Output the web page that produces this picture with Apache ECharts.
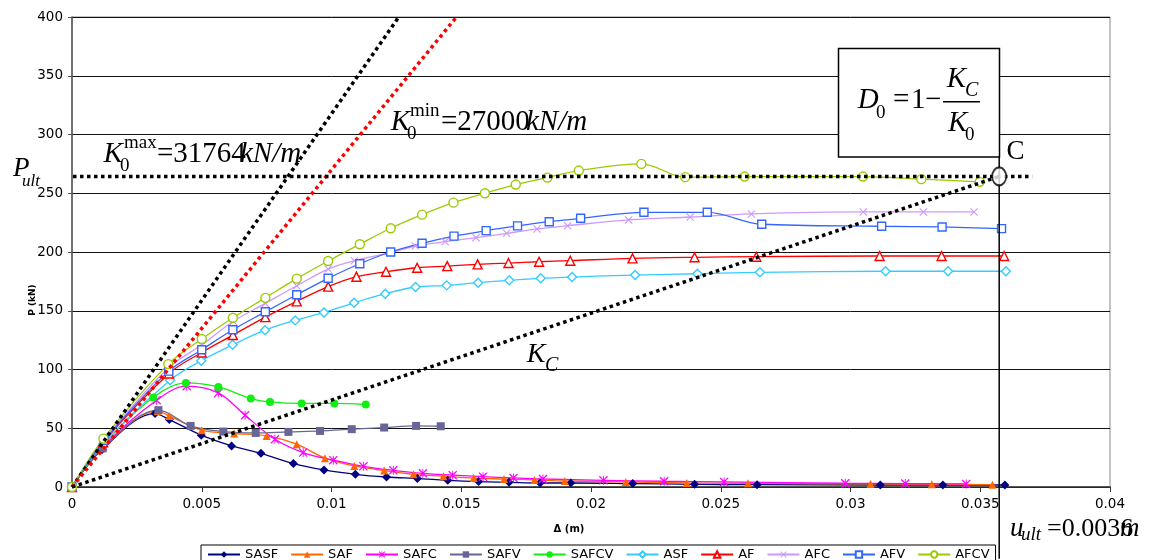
<!DOCTYPE html>
<html><head><meta charset="utf-8">
<script src="https://cdn.jsdelivr.net/npm/echarts@6/dist/echarts.min.js"></script>
<style>html,body{margin:0;padding:0;background:#fff}#c{width:1159px;height:560px}</style>
</head><body><div id="c"></div>
<script>
// ---------------- DATA ----------------
const seriesNames = ['SASF','SAF','SAFC','SAFV','SAFCV','ASF','AF','AFC','AFV','AFCV'];
const SASF = [[0,0],[0.00116,32],[0.0032,62.5],[0.00375,57.4],[0.00498,44.1],[0.00615,35],[0.00728,28.7],[0.00853,19.9],[0.00971,14.5],[0.01092,10.8],[0.01212,8.5],[0.01331,7.2],[0.01448,5.7],[0.01567,4.6],[0.01684,4],[0.01804,3.4],[0.01922,3.4],[0.02161,2.9],[0.02399,2.3],[0.0264,2],[0.03115,1.7],[0.03356,1.7],[0.03595,1.7]];
const SAF = [[0,0],[0.00118,33],[0.0033,64.5],[0.00375,60.5],[0.005,48.3],[0.00625,45.5],[0.0075,43.5],[0.00866,36.4],[0.00975,24.5],[0.01088,17.9],[0.01203,14],[0.01316,10.8],[0.01431,9.2],[0.01548,7.6],[0.01665,6.8],[0.01782,6],[0.01899,5.1],[0.02134,4.3],[0.02369,3.4],[0.02605,3.2],[0.03077,2.6],[0.03313,2.3],[0.03547,2]];
const SAFC = [[0,0],[0.0012,34.6],[0.00326,73.9],[0.00442,85.8],[0.00564,80.1],[0.00667,61.1],[0.00782,40.6],[0.00891,29.3],[0.01007,22.8],[0.01123,17.6],[0.01238,14.2],[0.01352,11.6],[0.01467,10.1],[0.01584,8.8],[0.01701,7.7],[0.01815,6.8],[0.02048,5.7],[0.02282,4.9],[0.02513,4.3],[0.0298,3.2],[0.03211,2.9],[0.03446,2.6]];
const SAFV = [[0,0],[0.00118,33],[0.00333,65.4],[0.00457,52],[0.00583,47.2],[0.00708,46],[0.00834,46.9],[0.00956,47.7],[0.01078,49.2],[0.01203,50.6],[0.01326,52],[0.01421,51.7]];
const SAFCV = [[0,0],[0.0012,36],[0.00313,76.2],[0.00439,88.6],[0.00564,85.2],[0.00689,75.3],[0.00763,72.4],[0.00885,71.1],[0.01011,71.1],[0.01132,70.2]];
const ASF = [[0,0],[0.0012,36.6],[0.00378,90.9],[0.00498,107.4],[0.00619,121],[0.00744,133.5],[0.0086,141.8],[0.00971,148.6],[0.01087,156.8],[0.01207,164.5],[0.01324,170.2],[0.01444,171.6],[0.01565,173.9],[0.01685,175.9],[0.01806,177.6],[0.01927,178.7],[0.0217,180.4],[0.0241,181.5],[0.02651,182.7],[0.03135,183.6],[0.03376,183.6],[0.03599,183.6]];
const AF = [[0,0],[0.0012,38],[0.00374,96.6],[0.005,114.5],[0.0062,129.3],[0.00745,144.6],[0.00866,158],[0.00987,170.5],[0.01096,179],[0.0121,183.2],[0.0133,186.6],[0.01446,188],[0.01563,189.5],[0.01682,190.6],[0.018,191.7],[0.0192,192.6],[0.0216,194.6],[0.02399,195.5],[0.02637,196],[0.03112,196.6],[0.03351,196.6],[0.03592,196.6]];
const AFC = [[0,0],[0.0012,39],[0.0037,101],[0.005,121],[0.00622,141],[0.00745,156.3],[0.00866,171.3],[0.00987,185.5],[0.01088,192.6],[0.01228,199.4],[0.01323,205.1],[0.01438,208.8],[0.01557,212.2],[0.01675,215.9],[0.01792,219.6],[0.0191,222.4],[0.02145,227.3],[0.02382,229.8],[0.02618,232.4],[0.03049,234.1],[0.03281,234.1],[0.03476,234.1]];
const AFV = [[0,0],[0.00125,39.8],[0.00373,98.6],[0.005,116.8],[0.0062,133.8],[0.00745,149.1],[0.00866,163.6],[0.00987,177.6],[0.01109,190],[0.01228,200],[0.01349,207.4],[0.01472,213.5],[0.01596,218.2],[0.01717,222.2],[0.01839,225.8],[0.0196,228.7],[0.02204,233.8],[0.02448,233.8],[0.02658,223.6],[0.0312,221.9],[0.03353,221.3],[0.03582,219.9]];
const AFCV = [[0,0],[0.00121,41.2],[0.00371,104.6],[0.005,125.9],[0.0062,144],[0.00745,161],[0.00866,177.3],[0.00987,192.3],[0.01109,206.6],[0.01228,220.2],[0.01349,231.8],[0.0147,242],[0.01591,250],[0.0171,257.4],[0.01832,263.3],[0.01953,269.3],[0.02194,275],[0.02363,263.7],[0.02592,264.2],[0.03048,264.2],[0.03273,262],[0.03498,259.7]];

const xTicks = [0,0.005,0.01,0.015,0.02,0.025,0.03,0.035,0.04];
const yTicks = [0,50,100,150,200,250,300,350,400];

const K0max = 31764;      // kN/m
const K0min = 27000;      // kN/m
const Pult = 264.3;       // kN
const uUlt = 0.03573;     // m (position of point C)
const PultLineX = [-0.00077, 0.0370];
const uUltLineY = [281, -61];

// ---------------- STYLE ----------------
const colors = {SASF:'#000080',SAF:'#FF6600',SAFC:'#FF00FF',SAFV:'#666699',SAFCV:'#11EE11',
                ASF:'#33CCFF',AF:'#FF0000',AFC:'#CC99FF',AFV:'#3366FF',AFCV:'#99CC00'};
const XPATH = 'path://M0,2 L2,0 L10,8 L18,0 L20,2 L12,10 L20,18 L18,20 L10,12 L2,20 L0,18 L8,10 Z';
const STARPATH = 'path://M0,2 L2,0 L10,8 L18,0 L20,2 L12,10 L20,18 L18,20 L10,12 L2,20 L0,18 L8,10 Z M9,0 L11,0 L11,20 L9,20 Z';
const marks = {
  SASF:['diamond',false,9], SAF:['triangle',false,8], SAFC:[STARPATH,false,9], SAFV:['rect',false,8], SAFCV:['circle',false,8],
  ASF:['diamond',true,9], AF:['triangle',true,9], AFC:[XPATH,false,8], AFV:['rect',true,8], AFCV:['circle',true,9]
};
const dataByName = {SASF,SAF,SAFC,SAFV,SAFCV,ASF,AF,AFC,AFV,AFCV};

function mk(name){
  const c = colors[name], m = marks[name];
  return {
    name, type:'line', data: dataByName[name], smooth:0.35, symbol:m[0], symbolSize:m[2],
    showSymbol:true, showAllSymbol:true, animation:false, z:2,
    lineStyle:{color:c, width:1.3},
    itemStyle: m[1] ? {color:'#fff', borderColor:c, borderWidth:1.4} : {color:c, borderWidth:0},
    emphasis:{disabled:true}
  };
}
function dotted(name, data, color){
  return {name, type:'line', data, symbol:'none', clip:false, animation:false, z:4, silent:true,
    lineStyle:{color, width:3.5, type:[3.5,3.5], cap:'butt'}};
}

const SERIF = '"Liberation Serif","Times New Roman",serif';
function T(x, base, text, fs, italic){
  return {type:'text', x:x, y:base - 0.3*fs, z:100,
    style:{text, font:(italic?'italic ':'') + fs + 'px ' + SERIF, fill:'#000', align:'left', verticalAlign:'middle'}};
}

const series = seriesNames.map(mk);
series.push(dotted('K0max', [[0,0],[400/K0max,400]], '#000'));
series.push(dotted('K0min', [[0,0],[400/K0min,400]], '#FF0000'));
series.push(dotted('Kc', [[0,0],[uUlt,Pult]], '#000'));
series.push(dotted('Pult', [[PultLineX[0],Pult],[PultLineX[1],Pult]], '#000'));
series.push({name:'uult', type:'line', data:[[uUlt,uUltLineY[0]],[uUlt,uUltLineY[1]]], symbol:'none', clip:false,
  animation:false, z:3, silent:true, lineStyle:{color:'#000', width:1.5}});
series.push({name:'C', type:'scatter', data:[[uUlt,Pult]], symbol:'circle', symbolSize:[14,18], z:6, animation:false,
  silent:true, itemStyle:{color:'#fff', borderColor:'#000', borderWidth:2}});

const graphic = [
  // P_ult
  T(13, 176.7, 'P', 27, true), T(22, 186.5, 'ult', 17, true),
  // K0max
  T(103.5, 163.3, 'K', 29, true), T(120, 171.7, '0', 19, false), T(124, 148.3, 'max', 19, false),
  T(157, 163.3, '=31764', 29, false), T(240, 163.3, 'kN/m', 29, true),
  // K0min
  T(390.7, 131.5, 'K', 29, true), T(407, 139.5, '0', 19, false), T(410, 116.7, 'min', 19, false),
  T(441, 131.5, '=27000', 29, false), T(526, 131.5, 'kN/m', 29, true),
  // K_C
  T(526.7, 363.3, 'K', 28, true), T(545, 371.7, 'C', 20, true),
  // C
  T(1006.5, 160, 'C', 27, false),
  // u_ult
  T(1010, 536.7, 'u', 27, true), T(1021, 540.7, 'ult', 19, true), T(1047, 536.7, '=0.0036', 26, false), T(1120, 536.7, 'm', 27, true),
  // D0 box
  {type:'rect', z:90, shape:{x:838.5, y:48.5, width:161, height:108.5}, style:{fill:'#fff', stroke:'#000', lineWidth:1.5}},
  T(857.7, 109.3, 'D', 29, true), T(876, 118.3, '0', 19, false),
  T(893, 109.3, '=', 29, false), T(911, 109.3, '1', 29, false), T(925, 109.3, '\u2212', 29, false),
  {type:'line', z:100, shape:{x1:943, y1:101.7, x2:980, y2:101.7}, style:{stroke:'#000', lineWidth:1.5}},
  T(946.7, 88.3, 'K', 29, true), T(965, 96.7, 'C', 20, true),
  T(948, 131.7, 'K', 29, true), T(965, 140.7, '0', 19, false)
];

const chart = echarts.init(document.getElementById('c'), null, {renderer:'canvas'});
chart.setOption({
  animation:false,
  backgroundColor:'#fff',
  textStyle:{fontFamily:'"DejaVu Sans", Arial, sans-serif'},
  grid:{left:72, right:49, top:17, bottom:73, show:true, borderColor:'#888', borderWidth:1, backgroundColor:'transparent'},
  legend:{
    data:seriesNames, left:201, top:545, itemWidth:32, itemHeight:8, itemGap:12,
    borderColor:'#000', borderWidth:1, padding:[3,6,3,6], borderRadius:0,
    textStyle:{fontSize:13, color:'#000', fontFamily:'"DejaVu Sans", Arial, sans-serif'}
  },
  xAxis:{
    type:'value', min:xTicks[0], max:xTicks[xTicks.length-1], interval:xTicks[1]-xTicks[0],
    name:'\u0394 (m)', nameLocation:'middle', nameGap:37, nameMoveOverlap:false,
    nameTextStyle:{fontWeight:'bold', fontSize:10, color:'#000', padding:[0,44,0,0]},
    axisLine:{show:true, onZero:false, lineStyle:{color:'#333', width:1.5}},
    axisTick:{show:true, length:5, lineStyle:{color:'#333'}},
    axisLabel:{fontSize:13.5, color:'#000', margin:10},
    splitLine:{show:false}
  },
  yAxis:{
    type:'value', min:yTicks[0], max:yTicks[yTicks.length-1], interval:yTicks[1]-yTicks[0],
    name:'P (kN)', nameLocation:'middle', nameGap:35, nameRotate:90, nameMoveOverlap:false,
    nameTextStyle:{fontWeight:'bold', fontSize:9, color:'#000', padding:[0,96,0,0]},
    axisLine:{show:true, lineStyle:{color:'#555', width:1.5}},
    axisTick:{show:true, length:4, lineStyle:{color:'#555'}},
    axisLabel:{fontSize:13.5, color:'#000', margin:9},
    splitLine:{show:true, lineStyle:{color:'#111', width:1}}
  },
  series,
  graphic
});
</script></body></html>
